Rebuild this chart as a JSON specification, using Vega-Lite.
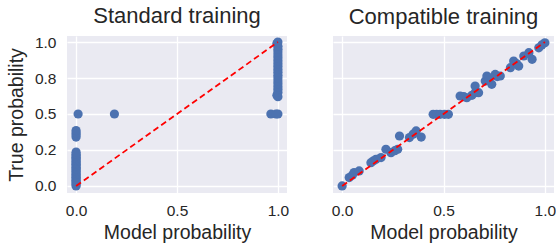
{
  "$schema": "https://vega.github.io/schema/vega-lite/v6.json",
  "padding": {"left": 6, "top": 5, "right": 2, "bottom": 2},
  "background": "white",
  "spacing": 46,
  "bounds": "flush",
  "datasets": {
    "standard": [
      {"x": 0, "y": 0}, {"x": 0, "y": 0.01}, {"x": 0, "y": 0.02}, {"x": 0, "y": 0.03}, {"x": 0, "y": 0.04},
      {"x": 0, "y": 0.05}, {"x": 0, "y": 0.06}, {"x": 0, "y": 0.07}, {"x": 0, "y": 0.08}, {"x": 0, "y": 0.09},
      {"x": 0, "y": 0.1}, {"x": 0, "y": 0.11}, {"x": 0, "y": 0.12}, {"x": 0, "y": 0.13}, {"x": 0, "y": 0.14},
      {"x": 0, "y": 0.15}, {"x": 0, "y": 0.16}, {"x": 0, "y": 0.17}, {"x": 0, "y": 0.18}, {"x": 0, "y": 0.19},
      {"x": 0, "y": 0.2}, {"x": 0, "y": 0.21}, {"x": 0, "y": 0.22}, {"x": 0, "y": 0.235},
      {"x": 0, "y": 0.34}, {"x": 0, "y": 0.355}, {"x": 0, "y": 0.37}, {"x": 0, "y": 0.385},
      {"x": 0.01, "y": 0.5}, {"x": 0.19, "y": 0.5},
      {"x": 0.965, "y": 0.5}, {"x": 0.99, "y": 0.5}, {"x": 1, "y": 0.5},
      {"x": 1, "y": 0.62}, {"x": 0.995, "y": 0.63}, {"x": 1, "y": 0.65}, {"x": 1, "y": 0.67}, {"x": 1, "y": 0.69},
      {"x": 1, "y": 0.71}, {"x": 1, "y": 0.73}, {"x": 1, "y": 0.75}, {"x": 1, "y": 0.77}, {"x": 1, "y": 0.79},
      {"x": 1, "y": 0.81}, {"x": 1, "y": 0.83}, {"x": 1, "y": 0.85}, {"x": 1, "y": 0.87}, {"x": 1, "y": 0.89},
      {"x": 1, "y": 0.91}, {"x": 1, "y": 0.93}, {"x": 1, "y": 0.95}, {"x": 1, "y": 0.97}, {"x": 0.995, "y": 0.99},
      {"x": 1, "y": 1}
    ],
    "compatible": [
      {"x": 0, "y": 0},
      {"x": 0.035, "y": 0.058}, {"x": 0.05, "y": 0.075}, {"x": 0.059, "y": 0.093}, {"x": 0.084, "y": 0.104},
      {"x": 0.142, "y": 0.162}, {"x": 0.155, "y": 0.175}, {"x": 0.167, "y": 0.185}, {"x": 0.192, "y": 0.197},
      {"x": 0.216, "y": 0.255}, {"x": 0.241, "y": 0.231}, {"x": 0.274, "y": 0.255}, {"x": 0.26, "y": 0.245},
      {"x": 0.283, "y": 0.347}, {"x": 0.332, "y": 0.336}, {"x": 0.365, "y": 0.382}, {"x": 0.39, "y": 0.34}, {"x": 0.35, "y": 0.36},
      {"x": 0.449, "y": 0.498}, {"x": 0.466, "y": 0.498}, {"x": 0.483, "y": 0.498}, {"x": 0.505, "y": 0.498}, {"x": 0.524, "y": 0.498},
      {"x": 0.582, "y": 0.625}, {"x": 0.6, "y": 0.62}, {"x": 0.615, "y": 0.613}, {"x": 0.64, "y": 0.63}, {"x": 0.656, "y": 0.648},
      {"x": 0.656, "y": 0.694}, {"x": 0.673, "y": 0.648},
      {"x": 0.706, "y": 0.729}, {"x": 0.714, "y": 0.764}, {"x": 0.725, "y": 0.75}, {"x": 0.738, "y": 0.706},
      {"x": 0.755, "y": 0.775}, {"x": 0.765, "y": 0.76}, {"x": 0.78, "y": 0.764},
      {"x": 0.83, "y": 0.822}, {"x": 0.846, "y": 0.868}, {"x": 0.871, "y": 0.833}, {"x": 0.86, "y": 0.85},
      {"x": 0.896, "y": 0.903}, {"x": 0.921, "y": 0.926}, {"x": 0.937, "y": 0.88},
      {"x": 0.97, "y": 0.96}, {"x": 0.985, "y": 0.98}, {"x": 1.0, "y": 0.995}
    ],
    "diag": [{"x": 0, "y": 0}, {"x": 1, "y": 1}]
  },
  "config": {
    "font": "Liberation Sans",
    "view": {"fill": "#EAEAF2", "stroke": null},
    "axis": {
      "grid": true, "gridColor": "white", "gridWidth": 1.3, "domain": false, "ticks": false, "labelOverlap": false,
      "labelFont": "Liberation Sans", "labelFontSize": 15.5, "labelColor": "#262626",
      "titleFont": "Liberation Sans", "titleFontSize": 19.5, "titleFontWeight": "normal", "titleColor": "#262626"
    },
    "title": {"font": "Liberation Sans", "fontSize": 22, "fontWeight": "normal", "color": "#262626", "offset": 7}
  },
  "hconcat": [
    {
      "title": "Standard training",
      "width": 220, "height": 157,
      "encoding": {
        "x": {"field": "x", "type": "quantitative", "scale": {"domain": [-0.045, 1.045], "nice": false, "zero": false},
              "axis": {"values": [0, 0.5, 1], "format": ".1f", "title": "Model probability", "labelPadding": 10, "titlePadding": 5}},
        "y": {"field": "y", "type": "quantitative", "scale": {"domain": [-0.049, 1.042], "nice": false, "zero": false},
              "axis": {"values": [0, 0.25, 0.5, 0.75, 1], "labelExpr": "datum.value == 0.25 ? '0.2' : format(datum.value, '.1f')", "title": "True probability", "labelPadding": 11, "titlePadding": 8}}
      },
      "layer": [
        {
          "data": {"name": "standard"},
          "mark": {"type": "circle", "size": 85, "color": "#4C72B0", "opacity": 1}
        },
        {
          "data": {"name": "diag"},
          "mark": {"type": "line", "color": "#FF0000", "strokeWidth": 1.8, "strokeDash": [6, 3.5]}
        }
      ]
    },
    {
      "title": "Compatible training",
      "width": 221, "height": 157,
      "encoding": {
        "x": {"field": "x", "type": "quantitative", "scale": {"domain": [-0.045, 1.045], "nice": false, "zero": false},
              "axis": {"values": [0, 0.5, 1], "format": ".1f", "title": "Model probability", "labelPadding": 10, "titlePadding": 5}},
        "y": {"field": "y", "type": "quantitative", "scale": {"domain": [-0.049, 1.042], "nice": false, "zero": false},
              "axis": {"values": [0, 0.25, 0.5, 0.75, 1], "labels": false, "title": null}}
      },
      "layer": [
        {
          "data": {"name": "compatible"},
          "mark": {"type": "circle", "size": 85, "color": "#4C72B0", "opacity": 1}
        },
        {
          "data": {"name": "diag"},
          "mark": {"type": "line", "color": "#FF0000", "strokeWidth": 1.8, "strokeDash": [6, 3.5]}
        }
      ]
    }
  ]
}
